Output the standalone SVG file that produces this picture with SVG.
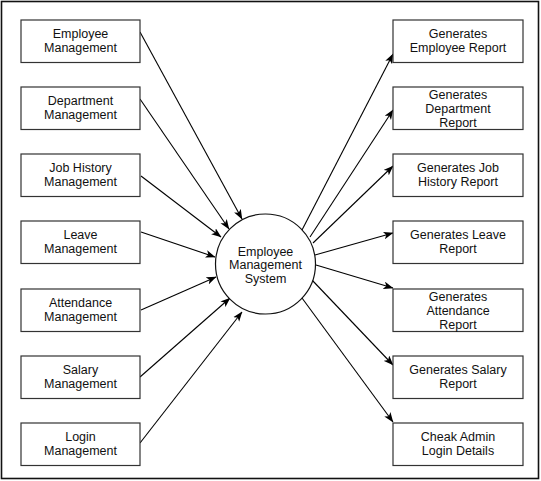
<svg xmlns="http://www.w3.org/2000/svg" width="541" height="481" viewBox="0 0 541 481">
<style>
.box{fill:#fff;stroke:#333;stroke-width:1.2}
.t{font-family:"Liberation Sans",Arial,sans-serif;font-size:12.5px;fill:#111;text-anchor:middle}
.c{fill:none;stroke:#000;stroke-width:1.1}
</style>
<defs>
<marker id="ah" viewBox="0 -4 10 8" markerWidth="10" markerHeight="8" refX="9.5" refY="0" orient="auto" markerUnits="userSpaceOnUse">
<path d="M0,-3.8 L10,0 L0,3.8 L2.5,0 Z" fill="#000"/>
</marker>
</defs>
<rect x="1.5" y="1.5" width="537" height="477" fill="#fff" stroke="#111" stroke-width="1.6"/>
<g id="connectors">
<path class="c" marker-end="url(#ah)" d="M140,32 L242,219"/>
<path class="c" marker-end="url(#ah)" d="M140,99 L229,229"/>
<path class="c" marker-end="url(#ah)" d="M141,176 L221,237"/>
<path class="c" marker-end="url(#ah)" d="M141,232 L215,257"/>
<path class="c" marker-end="url(#ah)" d="M141,310 L216,277"/>
<path class="c" marker-end="url(#ah)" d="M140,377 L230,298"/>
<path class="c" marker-end="url(#ah)" d="M140,443 L242,312"/>
<path class="c" marker-end="url(#ah)" d="M302,230 L393,54"/>
<path class="c" marker-end="url(#ah)" d="M310,237 L393,110"/>
<path class="c" marker-end="url(#ah)" d="M313,243 L393,166"/>
<path class="c" marker-end="url(#ah)" d="M315,255 L393,233"/>
<path class="c" marker-end="url(#ah)" d="M316,265 L393,288"/>
<path class="c" marker-end="url(#ah)" d="M312,280 L393,365"/>
<path class="c" marker-end="url(#ah)" d="M302,298 L393,422"/>
</g>
<g id="ems">
<circle cx="265.5" cy="264" r="50" fill="#fff" stroke="#111" stroke-width="1.2"/>
<text class="t" x="265.5" y="255.5">Employee</text>
<text class="t" x="265.5" y="269">Management</text>
<text class="t" x="265.5" y="282.5">System</text>
</g>
<g id="l1"><rect class="box" x="21" y="20" width="119" height="42.5"/><text class="t" x="80.5" y="38">Employee</text><text class="t" x="80.5" y="52">Management</text></g>
<g id="l2"><rect class="box" x="21" y="87" width="119" height="42.5"/><text class="t" x="80.5" y="105">Department</text><text class="t" x="80.5" y="119">Management</text></g>
<g id="l3"><rect class="box" x="21" y="154" width="119" height="42.5"/><text class="t" x="80.5" y="172">Job History</text><text class="t" x="80.5" y="186">Management</text></g>
<g id="l4"><rect class="box" x="21" y="221" width="119" height="42.5"/><text class="t" x="80.5" y="239">Leave</text><text class="t" x="80.5" y="253">Management</text></g>
<g id="l5"><rect class="box" x="21" y="289" width="119" height="42.5"/><text class="t" x="80.5" y="307">Attendance</text><text class="t" x="80.5" y="321">Management</text></g>
<g id="l6"><rect class="box" x="21" y="356" width="119" height="42.5"/><text class="t" x="80.5" y="374">Salary</text><text class="t" x="80.5" y="388">Management</text></g>
<g id="l7"><rect class="box" x="21" y="423" width="119" height="42.5"/><text class="t" x="80.5" y="441">Login</text><text class="t" x="80.5" y="455">Management</text></g>
<g id="r1"><rect class="box" x="393" y="20" width="130" height="42.5"/><text class="t" x="458" y="38">Generates</text><text class="t" x="458" y="52">Employee Report</text></g>
<g id="r2"><rect class="box" x="393" y="87" width="130" height="42.5"/><text class="t" x="458" y="99">Generates</text><text class="t" x="458" y="113">Department</text><text class="t" x="458" y="127">Report</text></g>
<g id="r3"><rect class="box" x="393" y="154" width="130" height="42.5"/><text class="t" x="458" y="172">Generates Job</text><text class="t" x="458" y="186">History Report</text></g>
<g id="r4"><rect class="box" x="393" y="221" width="130" height="42.5"/><text class="t" x="458" y="239">Generates Leave</text><text class="t" x="458" y="253">Report</text></g>
<g id="r5"><rect class="box" x="393" y="289" width="130" height="42.5"/><text class="t" x="458" y="301">Generates</text><text class="t" x="458" y="315">Attendance</text><text class="t" x="458" y="329">Report</text></g>
<g id="r6"><rect class="box" x="393" y="356" width="130" height="42.5"/><text class="t" x="458" y="374">Generates Salary</text><text class="t" x="458" y="388">Report</text></g>
<g id="r7"><rect class="box" x="393" y="423" width="130" height="42.5"/><text class="t" x="458" y="441">Cheak Admin</text><text class="t" x="458" y="455">Login Details</text></g>
</svg>
